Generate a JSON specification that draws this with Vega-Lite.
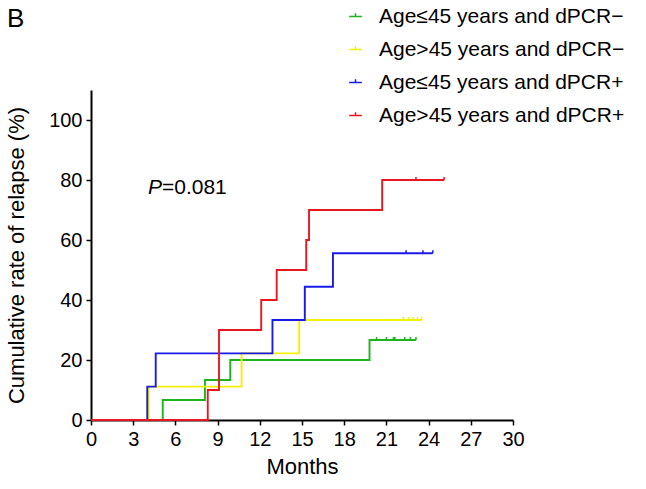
{
  "$schema": "https://vega.github.io/schema/vega-lite/v6.json",
  "autosize": {"type": "none"},
  "width": 422,
  "height": 330,
  "padding": {"left": 91, "top": 90, "right": 133, "bottom": 69},
  "background": "white",
  "config": {
    "view": {"stroke": null},
    "font": "Liberation Sans",
    "axis": {"grid": false, "domainColor": "black", "domainWidth": 2, "tickColor": "black", "tickWidth": 1.5, "tickSize": 5, "labelColor": "black", "labelFontSize": 20, "titleFontSize": 22, "titleFontWeight": "normal", "titleColor": "black", "labelFont": "Liberation Sans", "titleFont": "Liberation Sans", "labelFlush": false}
  },
  "title": {"text": "B", "anchor": "start", "frame": "group", "dx": -84, "dy": 30, "fontSize": 26, "fontWeight": "normal", "font": "Liberation Sans", "color": "black"},
  "datasets": {
    "curves": [
      {"group": "Age≤45 years and dPCR−", "month": 0, "rate": 0},
      {"group": "Age≤45 years and dPCR−", "month": 5.1, "rate": 6.67},
      {"group": "Age≤45 years and dPCR−", "month": 8.1, "rate": 13.33},
      {"group": "Age≤45 years and dPCR−", "month": 9.9, "rate": 20},
      {"group": "Age≤45 years and dPCR−", "month": 19.8, "rate": 26.67},
      {"group": "Age≤45 years and dPCR−", "month": 23.1, "rate": 26.67},
      {"group": "Age>45 years and dPCR−", "month": 0, "rate": 0},
      {"group": "Age>45 years and dPCR−", "month": 4.1, "rate": 11.11},
      {"group": "Age>45 years and dPCR−", "month": 10.7, "rate": 22.22},
      {"group": "Age>45 years and dPCR−", "month": 14.8, "rate": 33.33},
      {"group": "Age>45 years and dPCR−", "month": 23.5, "rate": 33.33},
      {"group": "Age≤45 years and dPCR+", "month": 0, "rate": 0},
      {"group": "Age≤45 years and dPCR+", "month": 4.0, "rate": 11.11},
      {"group": "Age≤45 years and dPCR+", "month": 4.6, "rate": 22.22},
      {"group": "Age≤45 years and dPCR+", "month": 12.9, "rate": 33.33},
      {"group": "Age≤45 years and dPCR+", "month": 15.2, "rate": 44.44},
      {"group": "Age≤45 years and dPCR+", "month": 17.2, "rate": 55.56},
      {"group": "Age≤45 years and dPCR+", "month": 24.3, "rate": 55.56},
      {"group": "Age>45 years and dPCR+", "month": 0, "rate": 0},
      {"group": "Age>45 years and dPCR+", "month": 8.3, "rate": 10},
      {"group": "Age>45 years and dPCR+", "month": 9.1, "rate": 30},
      {"group": "Age>45 years and dPCR+", "month": 12.1, "rate": 40},
      {"group": "Age>45 years and dPCR+", "month": 13.2, "rate": 50},
      {"group": "Age>45 years and dPCR+", "month": 15.3, "rate": 60},
      {"group": "Age>45 years and dPCR+", "month": 15.5, "rate": 70},
      {"group": "Age>45 years and dPCR+", "month": 20.7, "rate": 80},
      {"group": "Age>45 years and dPCR+", "month": 25.1, "rate": 80}
    ],
    "censored": [
      {"group": "Age≤45 years and dPCR−", "month": 20.3, "rate": 26.67},
      {"group": "Age≤45 years and dPCR−", "month": 21.0, "rate": 26.67},
      {"group": "Age≤45 years and dPCR−", "month": 21.5, "rate": 26.67},
      {"group": "Age≤45 years and dPCR−", "month": 21.6, "rate": 26.67},
      {"group": "Age≤45 years and dPCR−", "month": 22.3, "rate": 26.67},
      {"group": "Age≤45 years and dPCR−", "month": 22.7, "rate": 26.67},
      {"group": "Age≤45 years and dPCR−", "month": 23.1, "rate": 26.67},
      {"group": "Age>45 years and dPCR−", "month": 22.2, "rate": 33.33},
      {"group": "Age>45 years and dPCR−", "month": 22.6, "rate": 33.33},
      {"group": "Age>45 years and dPCR−", "month": 22.9, "rate": 33.33},
      {"group": "Age>45 years and dPCR−", "month": 23.2, "rate": 33.33},
      {"group": "Age>45 years and dPCR−", "month": 23.5, "rate": 33.33},
      {"group": "Age≤45 years and dPCR+", "month": 22.4, "rate": 55.56},
      {"group": "Age≤45 years and dPCR+", "month": 23.6, "rate": 55.56},
      {"group": "Age≤45 years and dPCR+", "month": 24.3, "rate": 55.56},
      {"group": "Age>45 years and dPCR+", "month": 23.1, "rate": 80},
      {"group": "Age>45 years and dPCR+", "month": 25.1, "rate": 80}
    ],
    "annot": [
      {"month": 4.05, "rate": 77.5, "p": "P", "rest": "=0.081"}
    ]
  },
  "encoding": {
    "x": {"field": "month", "type": "quantitative", "scale": {"domain": [0, 30], "nice": false, "zero": true}, "axis": {"values": [0, 3, 6, 9, 12, 15, 18, 21, 24, 27, 30], "title": "Months", "titlePadding": 7, "labelPadding": 4}},
    "y": {"field": "rate", "type": "quantitative", "scale": {"domain": [0, 110], "nice": false}, "axis": {"values": [0, 20, 40, 60, 80, 100], "title": "Cumulative rate of relapse (%)", "titlePadding": 20, "labelPadding": 4}}
  },
  "layer": [
    {
      "data": {"name": "curves"},
      "mark": {"type": "line", "interpolate": "step-after", "strokeWidth": 1.9},
      "encoding": {
        "color": {"field": "group", "type": "nominal",
          "scale": {"domain": ["Age≤45 years and dPCR−", "Age>45 years and dPCR−", "Age≤45 years and dPCR+", "Age>45 years and dPCR+"], "range": ["#1db41d", "#f2f200", "#1a1ae6", "#e8171f"]},
          "legend": {"title": null, "orient": "none", "legendX": 254, "legendY": -84, "labelFontSize": 21, "labelFont": "Liberation Sans", "labelColor": "black", "labelLimit": 400, "rowPadding": 11, "symbolType": "M-1,0H1M0,0V-0.5", "symbolSize": 160, "symbolStrokeWidth": 1.5, "labelOffset": 13}
        }
      }
    },
    {
      "data": {"name": "censored"},
      "mark": {"type": "point", "shape": "M0,0V-1", "size": 36, "filled": false, "strokeWidth": 1.5, "opacity": 1},
      "encoding": {
        "color": {"field": "group", "type": "nominal", "legend": null}
      }
    },
    {
      "data": {"name": "annot"},
      "mark": {"type": "text", "align": "left", "baseline": "middle", "fontSize": 21, "fontStyle": "italic", "font": "Liberation Sans", "color": "black"},
      "encoding": {"text": {"field": "p"}}
    },
    {
      "data": {"name": "annot"},
      "mark": {"type": "text", "align": "left", "baseline": "middle", "fontSize": 21, "font": "Liberation Sans", "color": "black", "dx": 14},
      "encoding": {"text": {"field": "rest"}}
    }
  ]
}
